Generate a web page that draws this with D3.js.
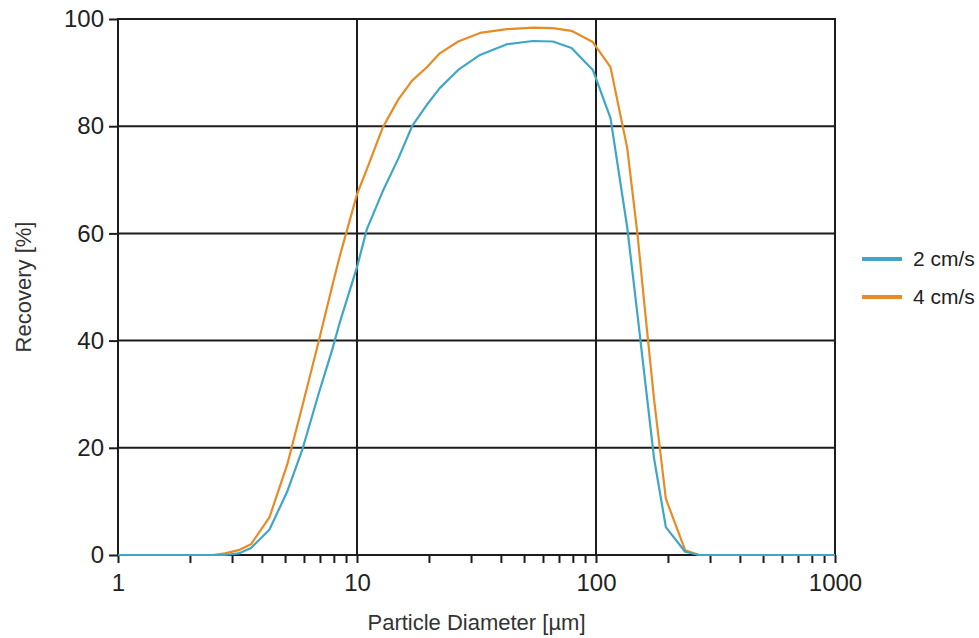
<!DOCTYPE html>
<html>
<head>
<meta charset="utf-8">
<script src="https://cdn.jsdelivr.net/npm/d3@7"></script>
<style>
  html, body { margin: 0; padding: 0; background: #fff; }
  svg { display: block; font-family: "Liberation Sans", Arial, sans-serif; }
</style>
</head>
<body>
<svg id="chart" width="979" height="638"></svg>
<script>
// Particle diameters (µm) at which recovery was evaluated
const sizes = [1, 1.5, 2, 2.5, 2.8, 3.2, 3.6, 4.3, 5.1, 5.9, 6.9, 7.9, 8.5, 10, 11, 12.8, 14.9, 17, 19.6, 22.2,
               26.5, 32.7, 42.4, 54.5, 66, 79, 97, 115, 135, 149, 160, 175, 196, 236, 270, 300, 400, 500, 700, 1000];

// Recovery [%] at 2 cm/s
const recovery2 = [0, 0, 0, 0, 0, 0.3, 1.3, 4.7, 11.8, 19.6, 30, 38.5, 43.6, 53.7, 60.8, 67.8, 74, 80, 84, 87.1,
                   90.5, 93.3, 95.3, 95.9, 95.8, 94.6, 90.5, 81.5, 61.2, 45, 33, 18, 5.2, 0.6, 0, 0, 0, 0, 0, 0];

// Recovery [%] at 4 cm/s
const recovery4 = [0, 0, 0, 0, 0.3, 0.9, 2.0, 7.0, 16.8, 27.7, 39.7, 50.4, 56, 67.3, 72, 79.7, 85, 88.5, 91, 93.6,
                   95.8, 97.4, 98.1, 98.4, 98.3, 97.8, 95.7, 91, 76, 60, 46, 29, 10.5, 0.9, 0, 0, 0, 0, 0, 0];

const seriesNames = ["2 cm/s", "4 cm/s"];
const seriesColors = ["#3fa6c7", "#e88b25"];
const yTicks = [0, 20, 40, 60, 80, 100];
const xLabelTicks = [1, 10, 100, 1000];

const svg = d3.select("#chart");
const plot = { left: 118, right: 835, top: 19, bottom: 555 };

const x = d3.scaleLog().domain([1, 1000]).range([plot.left, plot.right]);
const y = d3.scaleLinear().domain([0, 100]).range([plot.bottom, plot.top]);

const ink = "#1c1c1c";
const fontFamily = "'Liberation Sans', Arial, sans-serif";

// Gridlines at the major values
const grid = svg.append("g");
grid.selectAll("line.h").data(yTicks.filter(v => v > 0 && v < 100)).join("line")
  .attr("x1", plot.left).attr("x2", plot.right)
  .attr("y1", d => y(d)).attr("y2", d => y(d))
  .attr("stroke", ink).attr("stroke-width", 2);
grid.selectAll("line.v").data([10, 100]).join("line")
  .attr("y1", plot.top).attr("y2", plot.bottom)
  .attr("x1", d => x(d)).attr("x2", d => x(d))
  .attr("stroke", ink).attr("stroke-width", 2);

// Y axis
const yAxis = svg.append("g")
  .attr("transform", `translate(${plot.left},0)`)
  .call(d3.axisLeft(y).tickValues(yTicks).tickSize(9).tickPadding(5).tickFormat(d3.format("d")));
yAxis.select(".domain").remove();
yAxis.selectAll(".tick line").attr("stroke", ink).attr("stroke-width", 2);
yAxis.selectAll(".tick text").attr("font-size", 24).attr("fill", "#222").attr("font-family", fontFamily);

// X axis (log) with minor ticks
const allXTicks = [];
for (let dec = 1; dec < 1000; dec *= 10) for (let m = 1; m < 10; m++) allXTicks.push(dec * m);
allXTicks.push(1000);
const xAxis = svg.append("g")
  .attr("transform", `translate(0,${plot.bottom})`)
  .call(d3.axisBottom(x).tickValues(allXTicks).tickSize(8).tickPadding(11)
    .tickFormat(d => xLabelTicks.includes(d) ? d3.format("d")(d) : ""));
xAxis.select(".domain").remove();
xAxis.selectAll(".tick line").attr("stroke", ink).attr("stroke-width", 2);
xAxis.selectAll(".tick text").attr("font-size", 24).attr("fill", "#222").attr("font-family", fontFamily);

// Plot frame
svg.append("rect")
  .attr("x", plot.left).attr("y", plot.top)
  .attr("width", plot.right - plot.left).attr("height", plot.bottom - plot.top)
  .attr("fill", "none").attr("stroke", ink).attr("stroke-width", 2);

// Curves (2 cm/s drawn last so it sits on top)
const line = d3.line().x(d => x(d[0])).y(d => y(d[1]));
const data = [recovery2, recovery4].map(vals => sizes.map((s, i) => [s, vals[i]]));
svg.append("g").selectAll("path").data([1, 0]).join("path")
  .attr("d", i => line(data[i]))
  .attr("fill", "none")
  .attr("stroke", i => seriesColors[i])
  .attr("stroke-width", 2.2)
  .attr("stroke-linejoin", "round");

// Axis titles
svg.append("text")
  .attr("x", (plot.left + plot.right) / 2).attr("y", 630)
  .attr("text-anchor", "middle").attr("font-size", 22).attr("fill", "#333")
  .text("Particle Diameter [µm]");
svg.append("text")
  .attr("transform", `translate(31,${(plot.top + plot.bottom) / 2}) rotate(-90)`)
  .attr("text-anchor", "middle").attr("font-size", 22).attr("fill", "#333")
  .text("Recovery [%]");

// Legend
const legend = svg.append("g").selectAll("g").data(seriesNames).join("g")
  .attr("transform", (d, i) => `translate(862,${259 + i * 38})`);
legend.append("line")
  .attr("x1", 0).attr("x2", 40).attr("y1", 0).attr("y2", 0)
  .attr("stroke", (d, i) => seriesColors[i]).attr("stroke-width", 4);
legend.append("text")
  .attr("x", 51).attr("y", 7).attr("font-size", 21).attr("fill", "#222")
  .text(d => d);
</script>
</body>
</html>
